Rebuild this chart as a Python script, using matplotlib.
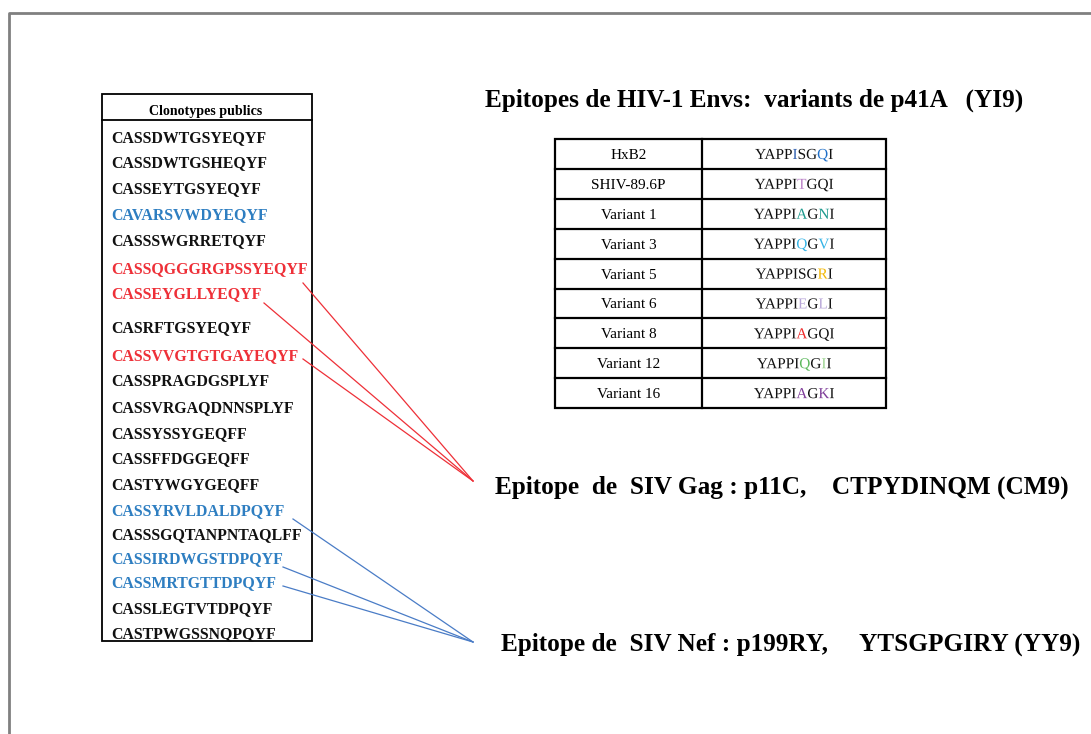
import matplotlib
matplotlib.use("Agg")
import matplotlib.pyplot as plt
from matplotlib.patches import Rectangle, PathPatch
from matplotlib.path import Path
from matplotlib.textpath import TextPath
from matplotlib.font_manager import FontProperties
import matplotlib.transforms as mtransforms

plt.rcParams['font.family'] = ['Liberation Serif', 'DejaVu Serif']

BLACK = "#111111"
BLUE = "#2E7EC1"
RED = "#EE3038"

clonotypes = [
    "CASSDWTGSYEQYF", "CASSDWTGSHEQYF", "CASSEYTGSYEQYF", "CAVARSVWDYEQYF",
    "CASSSWGRRETQYF", "CASSQGGGRGPSSYEQYF", "CASSEYGLLYEQYF", "CASRFTGSYEQYF",
    "CASSVVGTGTGAYEQYF", "CASSPRAGDGSPLYF", "CASSVRGAQDNNSPLYF", "CASSYSSYGEQFF",
    "CASSFFDGGEQFF", "CASTYWGYGEQFF", "CASSYRVLDALDPQYF", "CASSSGQTANPNTAQLFF",
    "CASSIRDWGSTDPQYF", "CASSMRTGTTDPQYF", "CASSLEGTVTDPQYF", "CASTPWGSSNQPQYF",
]
clono_colors = [
    BLACK, BLACK, BLACK, BLUE, BLACK, RED, RED, BLACK, RED, BLACK,
    BLACK, BLACK, BLACK, BLACK, BLUE, BLACK, BLUE, BLUE, BLACK, BLACK,
]
clono_y = [137, 162, 188, 214, 240, 268, 293, 327, 355, 381,
           407, 433, 458, 484, 510, 534, 558, 582, 608, 633]

variant_names = ["HxB2", "SHIV-89.6P", "Variant 1", "Variant 3", "Variant 5",
                 "Variant 6", "Variant 8", "Variant 12", "Variant 16"]
variant_seqs = ["YAPPISGQI", "YAPPITGQI", "YAPPIAGNI", "YAPPIQGVI", "YAPPISGRI",
                "YAPPIEGLI", "YAPPIAGQI", "YAPPIQGII", "YAPPIAGKI"]
# highlighted positions and their colour, per variant
variant_marks = [
    {4: "#2F5FB0", 7: "#1F6FC8"},
    {5: "#B97FC6"},
    {5: "#1E9A8E", 7: "#1E9A8E"},
    {5: "#35B4E6", 7: "#35B4E6"},
    {7: "#F2B705"},
    {5: "#B7A5D8", 7: "#B7A5D8"},
    {5: "#EE2A2A"},
    {5: "#5CB85C", 7: "#9BD38F"},
    {5: "#7D3C98", 7: "#7D3C98"},
]

# links: (clonotype row, x where the line leaves, drop below the row centre)
gag_links = [(5, 303, 15), (6, 264, 10), (8, 303, 4)]
nef_links = [(14, 293, 9), (16, 283, 9), (17, 283, 4)]

fig = plt.figure(figsize=(10.91, 7.34), dpi=100)
ax = fig.add_axes([0, 0, 1, 1])
ax.set_xlim(0, 1091)
ax.set_ylim(734, 0)
ax.axis("off")

# slide frame
ax.plot([8.5, 8.5, 1091], [734, 12.5, 12.5], color="#808080", lw=2, solid_capstyle="butt")

# clonotype box
ax.add_patch(Rectangle((102, 94), 210, 547, fill=False, ec="black", lw=1.3))
ax.plot([102, 312], [120, 120], color="black", lw=1.3)
ax.text(206, 112, "Clonotypes publics", ha="center", va="center",
        fontsize=10.1, fontweight="bold")
for name, col, y in zip(clonotypes, clono_colors, clono_y):
    ax.text(111, y + 1, name, ha="left", va="center", fontsize=11.4,
            fontweight="bold", color=col)

# connecting lines
gag_pt = (473, 481)
nef_pt = (473, 642)
for i, x0, dy in gag_links:
    ax.plot([x0, gag_pt[0]], [clono_y[i] + dy, gag_pt[1]], color=RED, lw=0.9)
for i, x0, dy in nef_links:
    ax.plot([x0, nef_pt[0]], [clono_y[i] + dy, nef_pt[1]], color="#4A7CC6", lw=0.9)

# titles
ax.text(485, 100, "Epitopes de HIV-1 Envs:  variants de p41A   (YI9)",
        ha="left", va="center", fontsize=18.2, fontweight="bold")
ax.text(495, 487, "Epitope  de  SIV Gag : p11C,    CTPYDINQM (CM9)",
        ha="left", va="center", fontsize=18.2, fontweight="bold")
ax.text(501, 644, "Epitope de  SIV Nef : p199RY,     YTSGPGIRY (YY9)",
        ha="left", va="center", fontsize=18.2, fontweight="bold")

# variant table
tx0, tx1, txm = 555, 886, 702
ty0, row_h = 139, 29.9
n = len(variant_names)
ax.add_patch(Rectangle((tx0, ty0), tx1 - tx0, row_h * n, fill=False, ec="black", lw=1.6))
ax.plot([txm, txm], [ty0, ty0 + row_h * n], color="black", lw=1.6)
for k in range(1, n):
    ax.plot([tx0, tx1], [ty0 + k * row_h] * 2, color="black", lw=1.6)

# sequences drawn glyph by glyph as paths so single letters can be coloured
fp = FontProperties(family="Liberation Serif", size=11)
px = 100 / 72
cap_h = TextPath((0, 0), "I", prop=fp).get_extents().y1


def glyph_paths(seq):
    pieces, done = [], 0
    for j in range(len(seq)):
        p = TextPath((0, 0), seq[:j + 1], prop=fp)
        pieces.append(Path(p.vertices[done:], p.codes[done:]))
        done = len(p.vertices)
    return pieces, TextPath((0, 0), seq, prop=fp).get_extents()


for k, (name, seq, marks) in enumerate(zip(variant_names, variant_seqs, variant_marks)):
    base = ty0 + (k + 0.5) * row_h + cap_h / 2 * px
    ax.text((tx0 + txm) / 2, base, name, ha="center", va="baseline", fontsize=11)
    pieces, ext = glyph_paths(seq)
    xs = (txm + tx1) / 2 - (ext.x0 + ext.x1) / 2 * px
    tr = mtransforms.Affine2D().scale(px, -px).translate(xs, base) + ax.transData
    for j, path in enumerate(pieces):
        ax.add_patch(PathPatch(path, transform=tr, fc=marks.get(j, BLACK), lw=0))

fig.savefig("out.png", dpi=100, facecolor="white")
